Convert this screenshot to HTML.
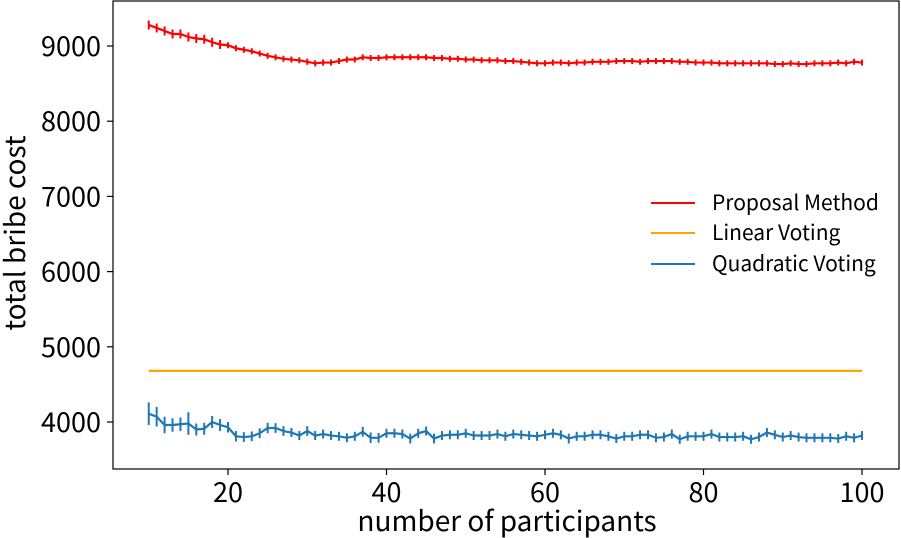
<!DOCTYPE html>
<html><head><meta charset="utf-8"><style>
body{margin:0;background:#fff;}
svg{display:block;font-family:"Noto Sans CJK JP","Liberation Sans",sans-serif;}
</style></head><body>
<svg id="chart" width="901" height="538">
<rect x="0" y="0" width="901" height="538" fill="#fff"/>
<g id="plot"></g>
</svg>
<script>
const xValues=[];for(let i=10;i<=100;i++)xValues.push(i);
const proposal=[9280,9240,9200,9160,9160,9120,9100,9090,9050,9020,9010,8970,8950,8930,8900,8870,8850,8830,8820,8810,8790,8770,8780,8780,8800,8820,8820,8850,8840,8840,8850,8850,8850,8850,8850,8850,8840,8840,8830,8830,8820,8820,8810,8810,8810,8800,8800,8790,8780,8770,8770,8780,8780,8770,8780,8780,8790,8790,8790,8800,8800,8800,8790,8800,8800,8800,8800,8790,8790,8780,8780,8780,8770,8770,8770,8770,8770,8770,8770,8760,8760,8770,8760,8760,8770,8770,8770,8780,8770,8790,8780];
const linear=xValues.map(()=>4680);
const quadratic=[4110,4070,3960,3960,3970,3980,3900,3910,4000,3960,3930,3810,3800,3810,3850,3920,3920,3880,3860,3820,3880,3820,3840,3820,3810,3790,3810,3870,3790,3790,3850,3850,3840,3780,3850,3880,3780,3820,3830,3830,3850,3820,3820,3820,3840,3810,3840,3830,3820,3810,3830,3850,3830,3780,3810,3810,3830,3830,3810,3780,3810,3810,3830,3830,3790,3800,3840,3770,3810,3810,3810,3840,3800,3800,3800,3810,3770,3800,3860,3830,3800,3820,3800,3790,3790,3790,3790,3780,3810,3790,3820];
const proposalErr=xValues.map((x,i)=>i<10?60:40);
const quadErr=[150,130,110,90,90,150,80,80,80,80,70,70,65,65,65,70,65,65,60,60,65,60,60,60,60,60,60,65,70,65,60,60,60,65,60,60,65,60,60,60,60,60,60,60,60,60,60,60,60,60,60,60,60,65,60,60,60,60,60,60,60,60,60,60,60,60,60,60,60,60,60,60,60,60,60,60,60,60,60,60,60,60,60,60,60,60,60,60,60,60,60];
const xTicks=[20,40,60,80,100];
const yTicks=[4000,5000,6000,7000,8000,9000];
const L=113,R=899,T=1,B=469;
const X=v=>228+(v-20)*7.925;
const Y=v=>422-(v-4000)*0.0752;
const NS='http://www.w3.org/2000/svg';
const g=document.getElementById('plot');
function mk(t,a,p){const e=document.createElementNS(NS,t);for(const k in a)e.setAttribute(k,a[k]);(p||g).appendChild(e);return e;}
function series(vals,errs,color,name){
  const grp=mk('g',{});
  
  
  if(errs){vals.forEach((v,i)=>{const e=mk('line',{x1:X(xValues[i]),x2:X(xValues[i]),y1:Y(v-errs[i]),y2:Y(v+errs[i]),stroke:color,'stroke-width':2},grp);
    
    });}
  const p=mk('polyline',{points:vals.map((v,i)=>X(xValues[i])+','+Y(v)).join(' '),fill:'none',stroke:color,'stroke-width':2.2},grp);
  
  
}
series(proposal,proposalErr,'#ff0000','proposal-method-series');
series(linear,null,'#ffa500','linear-voting-series');
series(quadratic,quadErr,'#1f77b4','quadratic-voting-series');
const frame=mk('rect',{x:L,y:T,width:R-L,height:B-T,fill:'none',stroke:'#000','stroke-width':1.2});


xTicks.forEach(t=>{mk('line',{x1:X(t),x2:X(t),y1:B,y2:B+6,stroke:'#000','stroke-width':1.2});
  const tx=mk('text',{x:X(t),y:B+33,'text-anchor':'middle','font-size':27,fill:'#000'});tx.textContent=t;
  
  });
yTicks.forEach(t=>{mk('line',{x1:L-6,x2:L,y1:Y(t),y2:Y(t),stroke:'#000','stroke-width':1.2});
  const tx=mk('text',{x:L-12,y:Y(t)+10,'text-anchor':'end','font-size':27,fill:'#000'});tx.textContent=t;
  
  });
const xt=mk('text',{x:507,y:531,'text-anchor':'middle','font-size':28,fill:'#000'});xt.textContent='number of participants';


const yt=mk('text',{x:0,y:0,transform:'translate(25,233) rotate(-90)','text-anchor':'middle','font-size':28,fill:'#000'});yt.textContent='total bribe cost';


[['Proposal Method','#ff0000',203],['Linear Voting','#ffa500',233],['Quadratic Voting','#1f77b4',264]].forEach(d=>{
  const lg=mk('g',{});
  
  
  mk('line',{x1:651,x2:695,y1:d[2],y2:d[2],stroke:d[1],'stroke-width':2},lg);
  const tx=mk('text',{x:712,y:d[2]+7,'font-size':21,fill:'#000'},lg);tx.textContent=d[0];
});
</script>
</body></html>
